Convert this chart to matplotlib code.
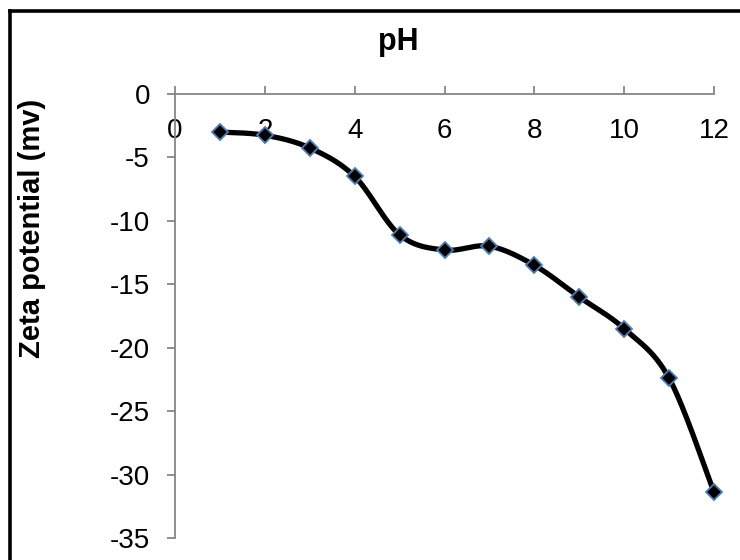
import numpy as np
import matplotlib
matplotlib.use("Agg")
import matplotlib.pyplot as plt
from matplotlib.lines import Line2D

plt.rcParams['font.family'] = ['Liberation Sans', 'DejaVu Sans']

# Data
ph = [1, 2, 3, 4, 5, 6, 7, 8, 9, 10, 11, 12]
zeta = [-3.0, -3.25, -4.25, -6.5, -11.1, -12.3, -12.0, -13.5, -16.0, -18.5, -22.4, -31.4]
x_ticks = [0, 2, 4, 6, 8, 10, 12]
y_ticks = [0, -5, -10, -15, -20, -25, -30, -35]
title = "pH"
ylabel = "Zeta potential (mv)"


def smooth_curve(xs, ys, n=40):
    """Excel-like smoothed line: cubic Bezier with Catmull-Rom control points."""
    P = np.column_stack([xs, ys]).astype(float)
    m = len(P)
    out = []
    t = np.linspace(0, 1, n)[:, None]
    for i in range(m - 1):
        p0 = P[i - 1] if i > 0 else P[i]
        p1 = P[i]
        p2 = P[i + 1]
        p3 = P[i + 2] if i + 2 < m else P[i + 1]
        c1 = p1 + (p2 - p0) / 6.0
        c2 = p2 - (p3 - p1) / 6.0
        seg = ((1 - t) ** 3) * p1 + 3 * ((1 - t) ** 2) * t * c1 + 3 * (1 - t) * t ** 2 * c2 + t ** 3 * p2
        out.append(seg if i == 0 else seg[1:])
    out = np.vstack(out)
    return out[:, 0], out[:, 1]


W, H = 740, 560
fig = plt.figure(figsize=(W / 100, H / 100), dpi=100)
ax = fig.add_axes([175 / W, 1 - 538 / H, (714 - 175) / W, (538 - 94) / H])

sx, sy = smooth_curve(ph, zeta)
ax.plot(sx, sy, color='black', lw=3.8, solid_capstyle='round', zorder=3, clip_on=False)
ax.plot(ph, zeta, linestyle='none', marker='D', markersize=8.2,
        markerfacecolor='black', markeredgecolor='#4A7EBB', markeredgewidth=1.3, zorder=4,
        clip_on=False)

ax.set_xlim(0, 12)
ax.set_ylim(-35, 0)
ax.set_xticks(x_ticks)
ax.set_yticks(y_ticks)
ax.set_xticklabels([str(v) for v in x_ticks])
ax.set_yticklabels([str(v) for v in y_ticks])

gray = '#868686'
for s in ['right', 'bottom']:
    ax.spines[s].set_visible(False)
for s in ['left', 'top']:
    ax.spines[s].set_color(gray)
    ax.spines[s].set_linewidth(1.3)

ax.xaxis.set_ticks_position('top')
ax.tick_params(axis='x', which='major', top=True, bottom=False, labeltop=True, labelbottom=False,
               direction='out', length=6, width=1.3, color=gray, labelsize=20, pad=-42)
ax.tick_params(axis='y', which='major', direction='out', length=6, width=1.3, color=gray,
               labelsize=20, pad=12)

fig.text(398.5 / W, 1 - 50 / H, title, ha='center', va='baseline', fontsize=22, fontweight='bold')
fig.text(32 / W, 1 - 228 / H, ylabel, ha='center', va='center', rotation=90,
         fontsize=21, fontweight='bold')

# chart-area frame (left and top edges visible; the rest is cropped off)
fig.add_artist(Line2D([9.5 / W, 9.5 / W], [0, 1 - 11 / H], transform=fig.transFigure,
                      color='black', lw=2.6, solid_capstyle='projecting'))
fig.add_artist(Line2D([9.5 / W, 1], [1 - 11 / H, 1 - 11 / H], transform=fig.transFigure,
                      color='black', lw=2.6, solid_capstyle='projecting'))

fig.savefig('out.png', dpi=100)
